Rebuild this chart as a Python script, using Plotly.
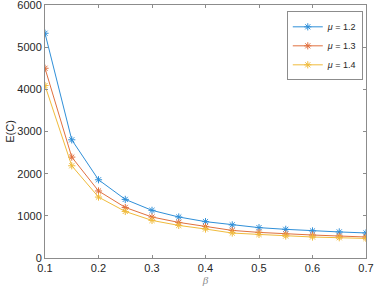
import plotly.graph_objects as go

beta = [0.1, 0.15, 0.2, 0.25, 0.3, 0.35, 0.4, 0.45, 0.5, 0.55, 0.6, 0.65, 0.7]
e_mu12 = [5330, 2803, 1855, 1390, 1130, 972, 862, 785, 720, 680, 642, 618, 594]
e_mu13 = [4500, 2393, 1590, 1199, 972, 844, 749, 654, 607, 569, 545, 521, 498]
e_mu14 = [4090, 2187, 1445, 1104, 891, 773, 687, 592, 559, 521, 498, 481, 464]
series_names = ["<i>μ</i> = 1.2", "<i>μ</i> = 1.3", "<i>μ</i> = 1.4"]
colors = ["#2f8fd8", "#e0703f", "#f0bb3c"]
x_ticks = [0.1, 0.2, 0.3, 0.4, 0.5, 0.6, 0.7]
y_ticks = [0, 1000, 2000, 3000, 4000, 5000, 6000]

fig = go.Figure()
for ys, name, c in zip([e_mu12, e_mu13, e_mu14], series_names, colors):
    fig.add_trace(go.Scatter(
        x=beta, y=ys, name=name, mode="lines+markers",
        line=dict(color=c, width=1),
        marker=dict(symbol="asterisk-open", size=6, color=c, line=dict(color=c, width=1)),
    ))

axis_common = dict(
    showline=True, linecolor="#8c8c8c", linewidth=1, mirror="ticks",
    ticks="inside", ticklen=3, tickcolor="#8c8c8c", showgrid=False, zeroline=False,
    automargin=False, ticklabeloverflow="allow",
    tickfont=dict(family="Liberation Sans, Arial, sans-serif", size=11, color="#262626"),
)

fig.update_layout(
    width=377, height=294,
    margin=dict(l=45, r=11, t=5, b=36),
    paper_bgcolor="white", plot_bgcolor="white",
    xaxis=dict(range=[0.1, 0.7], tickvals=x_ticks, ticktext=[str(v) for v in x_ticks],
               title=dict(text="<i>β</i>", standoff=0,
                          font=dict(family="Liberation Serif, serif", size=11, color="#8c8c8c")),
               **axis_common),
    yaxis=dict(range=[0, 6000], tickvals=y_ticks, ticktext=[str(v) for v in y_ticks],
               title=dict(text="E(C)", standoff=0,
                          font=dict(family="Liberation Sans, Arial, sans-serif", size=11, color="#262626")),
               **axis_common),
    legend=dict(x=0.99, y=0.975, xanchor="right", yanchor="top",
                bordercolor="#8c8c8c", borderwidth=1, bgcolor="white",
                font=dict(family="Liberation Sans, Arial, sans-serif", size=9, color="#262626"),
                tracegroupgap=0, itemwidth=30),
    showlegend=True,
)

fig.write_html("out.html", config={"displayModeBar": False},
               post_script="document.body.style.margin='0';document.body.style.overflow='hidden';")
